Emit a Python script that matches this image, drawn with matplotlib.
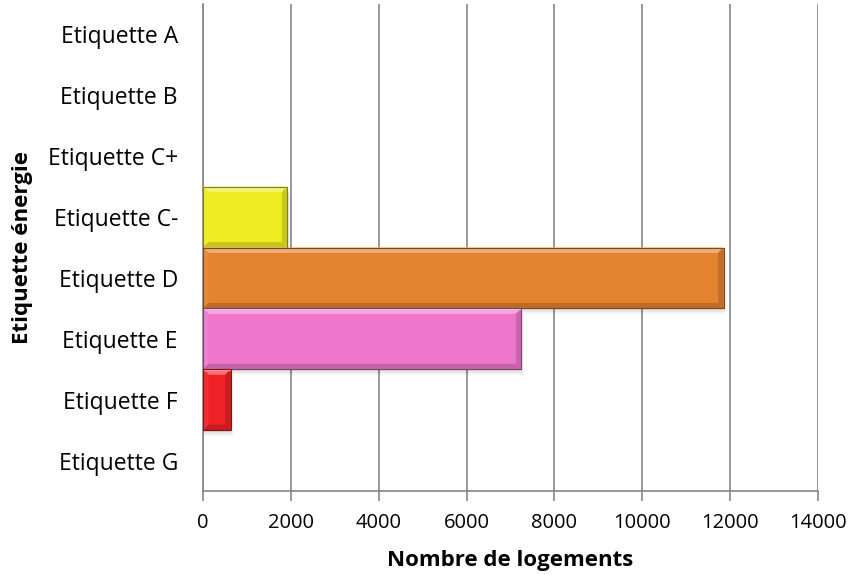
import numpy as np
import matplotlib
matplotlib.use('Agg')
from matplotlib import pyplot as plt
from matplotlib.patches import Polygon
from matplotlib.colors import to_rgb

etiquettes = ['Etiquette A', 'Etiquette B', 'Etiquette C+', 'Etiquette C-',
              'Etiquette D', 'Etiquette E', 'Etiquette F', 'Etiquette G']
logements = [0, 0, 0, 1920, 11850, 7250, 630, 0]
couleurs = ['#3c9a3c', '#8cc63f', '#c8dc32', '#eded22',
            '#e3822f', '#ee77cc', '#ee2226', '#b01010']
graduations = [0, 2000, 4000, 6000, 8000, 10000, 12000, 14000]

plt.rcParams['font.family'] = ['Open Sans', 'DejaVu Sans']


def nuance(c, f):
    # f > 0 eclaircit, f < 0 assombrit
    r = np.array(to_rgb(c))
    if f >= 0:
        return tuple(r + (1 - r) * f)
    return tuple(r * (1 + f))


fig = plt.figure(figsize=(8.54, 5.75), dpi=100)
ax = fig.add_axes([203 / 854, 1 - 491 / 575, 615 / 854, 487 / 575])

xmax = graduations[-1]
ax.set_xlim(0, xmax)
ax.set_ylim(len(etiquettes) - 0.5, -0.5)

# taille d'un pixel en unites de donnees
px_x = xmax / 615
px_y = len(etiquettes) / 487
bx, by = 5.5 * px_x, 5.5 * px_y

y = np.arange(len(etiquettes))
for yc, v, c in zip(y, logements, couleurs):
    if v <= 0:
        continue
    haut, bas = yc - 0.5, yc + 0.5
    # ombre portee
    for k, a in [(6, 0.04), (4, 0.06), (2, 0.08)]:
        ax.add_patch(Polygon([(0, haut + k * px_y), (v + k * px_x * 0.4, haut + k * px_y),
                              (v + k * px_x * 0.4, bas + k * px_y), (0, bas + k * px_y)],
                             closed=True, fc='black', ec='none', alpha=a, zorder=2))
    ax.barh(yc, v, height=1.0, color=c, edgecolor='none', zorder=3)
    bxx = min(bx, v / 2)
    # biseau : haut clair, gauche un peu clair, droite et bas sombres
    ax.add_patch(Polygon([(0, haut), (v, haut), (v - bxx, haut + by), (bxx, haut + by)],
                         fc=nuance(c, 0.35), ec='none', zorder=4))
    ax.add_patch(Polygon([(0, haut), (bxx, haut + by), (bxx, bas - by), (0, bas)],
                         fc=nuance(c, 0.06), ec='none', zorder=4))
    ax.add_patch(Polygon([(v, haut), (v, bas), (v - bxx, bas - by), (v - bxx, haut + by)],
                         fc=nuance(c, -0.15), ec='none', zorder=4))
    ax.add_patch(Polygon([(0, bas), (v, bas), (v - bxx, bas - by), (bxx, bas - by)],
                         fc=nuance(c, -0.17), ec='none', zorder=4))
    ax.plot([0, v], [haut + 0.8 * px_y, haut + 0.8 * px_y], color=nuance(c, 0.55),
            lw=1.0, zorder=5, solid_capstyle='butt')
    ax.add_patch(Polygon([(0, haut), (v, haut), (v, bas), (0, bas)], closed=True,
                         fc='none', ec=nuance(c, -0.45), lw=0.8, zorder=6))

ax.set_xticks(graduations)
ax.set_xticklabels([str(g) for g in graduations], fontsize=14.5)
ax.set_yticks(y)
ax.set_yticklabels(etiquettes, fontsize=16.5)
ax.grid(axis='x', color='#868686', linewidth=1.2, zorder=1)
ax.set_axisbelow(True)

for s in ['top', 'right']:
    ax.spines[s].set_visible(False)
ax.spines['left'].set_color('#868686')
ax.spines['bottom'].set_color('#868686')
ax.spines['left'].set_linewidth(1.2)
ax.spines['bottom'].set_linewidth(1.2)
ax.tick_params(axis='x', length=7, width=1.2, color='#868686', pad=9)
ax.tick_params(axis='y', length=0, pad=18)

ax.set_xlabel('Nombre de logements', fontsize=16, fontweight='bold', va='top')
ax.set_ylabel('Etiquette énergie', fontsize=16, fontweight='bold')
ax.xaxis.set_label_coords(0.5, -0.122)
ax.yaxis.set_label_coords(-0.2764, 0.5)

fig.savefig('out.png', dpi=100)
